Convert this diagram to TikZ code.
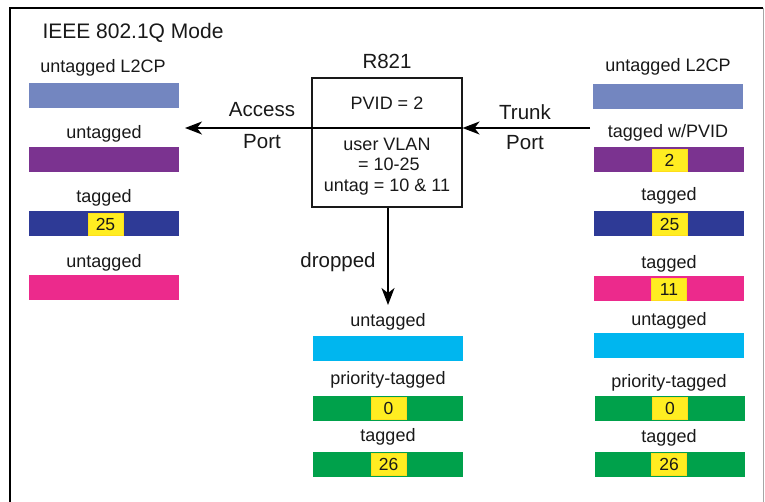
\documentclass[tikz,border=0pt]{standalone}
\usepackage{fontspec}
\setmainfont{Liberation Sans}
\usetikzlibrary{arrows.meta}
\definecolor{cL}{RGB}{115,134,192}
\definecolor{cP}{RGB}{123,51,144}
\definecolor{cB}{RGB}{46,58,150}
\definecolor{cK}{RGB}{236,42,140}
\definecolor{cC}{RGB}{0,182,239}
\definecolor{cG}{RGB}{0,161,75}
\definecolor{cY}{RGB}{255,237,33}
\definecolor{txt}{RGB}{25,25,25}
\tikzset{
  bar/.style={minimum width=150pt, minimum height=25pt, inner sep=0pt, outer sep=0pt},
  tagbox/.style={fill=cY, draw=cY!85!orange, line width=0.4pt, minimum width=35pt, minimum height=22pt, inner sep=0pt, text=txt, font=\fontsize{17.5}{17.5}\selectfont},
  lbl/.style={inner sep=0pt, text=txt, font=\fontsize{18}{18}\selectfont},
  biglbl/.style={inner sep=0pt, text=txt, font=\fontsize{20.5}{20.5}\selectfont},
  arr/.style={line width=1.5pt, -{Stealth[length=17pt,width=13pt,inset=5pt]}}
}
\begin{document}
\begin{tikzpicture}[x=1pt,y=-1pt]
\useasboundingbox (0,0) rectangle (765,501);
\fill[white] (0,0) rectangle (765,501);
% frame
\draw[line width=2.5pt] (10,502) -- (10,8) -- (763,8);
\draw[gray!70, line width=0.8pt] (763,8) -- (763,502);
\node[lbl, font=\fontsize{21}{21}\selectfont] (title) at (133,33) {IEEE 802.1Q Mode};
% left column
\node[lbl] (l1t) at (103,68) {untagged L2CP};
\node[bar, fill=cL] (l1) at (104,95.5) {};
\node[lbl] (l2t) at (104,134) {untagged};
\node[bar, fill=cP] (l2) at (104,159.5) {};
\node[lbl] (l3t) at (104,198) {tagged};
\node[bar, fill=cB] (l3) at (104,223.5) {};
\node[tagbox] (l3y) at (105.5,224) {25};
\node[lbl] (l4t) at (104,263) {untagged};
\node[bar, fill=cK] (l4) at (104,287) {};
% central box
\node[biglbl] (rname) at (387,61) {R821};
\node[draw=txt, line width=1.1pt, minimum width=150pt, minimum height=129pt, inner sep=0pt] (box) at (387,142.5) {};
\node[lbl] (pvid) at (387,103) {PVID = 2};
\node[lbl] (uv1) at (387,144) {user VLAN};
\node[lbl] (uv2) at (389,164) {= 10-25};
\node[lbl] (uv3) at (387,187) {untag = 10 \& 11};
\coordinate (trunkin) at (590,128);
\coordinate (accessout) at (185,128);
\coordinate (droptip) at (388,305);
\draw[line width=1.5pt] (box.west |- accessout) -- (box.east |- accessout);
\draw[arr] (trunkin) -- (trunkin -| box.east);
\draw[arr] (box.west |- accessout) -- (accessout);
\draw[arr] (droptip |- box.south) -- (droptip);
\node[biglbl] (acc) at (262,110) {Access};
\node[biglbl] (accp) at (262,142) {Port};
\node[biglbl] (trk) at (525,112) {Trunk};
\node[biglbl] (trkp) at (525,143) {Port};
\node[biglbl] (drop) at (338,262) {dropped};
% middle column
\node[lbl] (m1t) at (388,322) {untagged};
\node[bar, fill=cC] (m1) at (388,348) {};
\node[lbl] (m2t) at (388,380) {priority-tagged};
\node[bar, fill=cG] (m2) at (388,408) {};
\node[tagbox] (m2y) at (388.5,408) {0};
\node[lbl] (m3t) at (388,437) {tagged};
\node[bar, fill=cG] (m3) at (388,464.5) {};
\node[tagbox] (m3y) at (388.5,464.5) {26};
% right column
\node[lbl] (r1t) at (668,67) {untagged L2CP};
\node[bar, fill=cL] (r1) at (668,96.5) {};
\node[lbl] (r2t) at (668,133) {tagged w/PVID};
\node[bar, fill=cP] (r2) at (669,159.5) {};
\node[tagbox] (r2y) at (669.5,160) {2};
\node[lbl] (r3t) at (669,196) {tagged};
\node[bar, fill=cB] (r3) at (669,223.5) {};
\node[tagbox] (r3y) at (669.5,224) {25};
\node[lbl] (r4t) at (669,264) {tagged};
\node[bar, fill=cK] (r4) at (669,288.5) {};
\node[tagbox] (r4y) at (669,289) {11};
\node[lbl] (r5t) at (669,321) {untagged};
\node[bar, fill=cC] (r5) at (669,345.5) {};
\node[lbl] (r6t) at (669,383) {priority-tagged};
\node[bar, fill=cG] (r6) at (670,408) {};
\node[tagbox] (r6y) at (670,408) {0};
\node[lbl] (r7t) at (669,438) {tagged};
\node[bar, fill=cG] (r7) at (670,464.5) {};
\node[tagbox] (r7y) at (669,464.5) {26};
\end{tikzpicture}
\end{document}
